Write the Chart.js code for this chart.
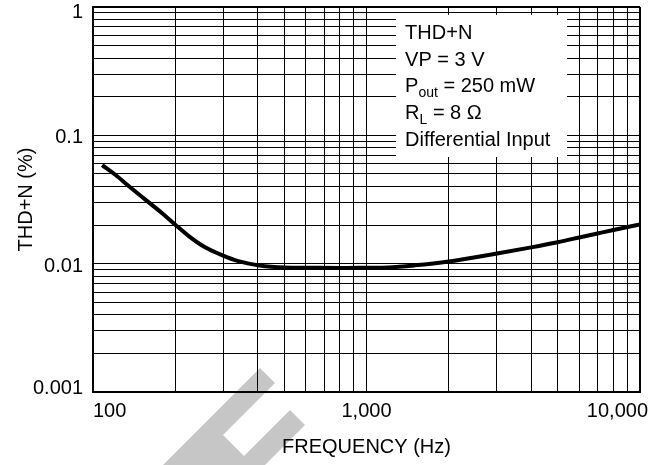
<!DOCTYPE html>
<html>
<head>
<meta charset="utf-8">
<script src="https://cdn.jsdelivr.net/npm/chart.js@4"></script>
<style>
  html, body { margin: 0; padding: 0; background: #fff; }
  canvas { display: block; }
</style>
</head>
<body>
<canvas id="thdChart" width="664" height="465"></canvas>
<script>
// THD+N vs frequency
const freqHz = [108, 121, 135, 155, 179, 199, 224, 257, 296, 340, 406, 504, 600, 800, 1000, 1200, 1500, 2000, 3000, 4000, 5000, 6000, 7000, 8000, 10000];
const thdPct = [0.0587, 0.0491, 0.0403, 0.0317, 0.0247, 0.0203, 0.0164, 0.0134, 0.01165, 0.01046, 0.00968, 0.00934, 0.0093, 0.00925, 0.0093, 0.00935, 0.0097, 0.0104, 0.0120, 0.0134, 0.0147, 0.0160, 0.0172, 0.0183, 0.0202];

const xTickValues = [100, 1000, 10000];
const xTickLabels = ['100', '1,000', '10,000'];
const yTickValues = [0.001, 0.01, 0.1, 1];
const yTickLabels = ['0.001', '0.01', '0.1', '1'];

// conditions box text; second item of a segment pair marks a subscript
const noteLines = [
    [['THD+N']],
    [['VP = 3 V']],
    [['P'], ['out', true], [' = 250 mW']],
    [['R'], ['L', true], [' = 8 \u03A9']],
    [['Differential Input']]
];

const FONT = '"Liberation Sans", Arial, Helvetica, sans-serif';
Chart.defaults.font.family = FONT;
Chart.defaults.font.size = 20;
Chart.defaults.color = '#000';

// 1..9 x each decade, for the log grid
function logGrid(decades) {
    const out = [];
    for (let i = 0; i < decades.length - 1; i++) {
        for (let k = 1; k < 10; k++) out.push(decades[i] * k);
    }
    out.push(decades[decades.length - 1]);
    return out;
}

// grey watermark stamp behind the grid
const watermarkPlugin = {
    id: 'watermark',
    beforeDraw(chart) {
        const ctx = chart.ctx;
        const pts = [[260, 368], [275, 383], [223, 435], [244, 456], [290, 410], [305, 425], [265, 465], [163, 465]];
        ctx.save();
        ctx.fillStyle = '#fff';
        ctx.fillRect(0, 0, chart.width, chart.height);
        ctx.fillStyle = '#c6c6c6';
        ctx.beginPath();
        pts.forEach((p, i) => i ? ctx.lineTo(p[0], p[1]) : ctx.moveTo(p[0], p[1]));
        ctx.closePath();
        ctx.fill();
        ctx.restore();
    }
};

// tick labels: end labels pulled inside like the original artwork
const tickLabelPlugin = {
    id: 'tickLabels',
    afterDraw(chart) {
        const { ctx, chartArea: a, scales: { x, y } } = chart;
        ctx.save();
        ctx.font = '20px ' + FONT;
        ctx.fillStyle = '#000';
        ctx.textBaseline = 'alphabetic';
        xTickValues.forEach((v, i) => {
            let px = x.getPixelForValue(v);
            if (i === 0) ctx.textAlign = 'left';
            else if (i === xTickValues.length - 1) { ctx.textAlign = 'right'; px += 8; }
            else ctx.textAlign = 'center';
            ctx.fillText(xTickLabels[i], px, a.bottom + 24.5);
        });
        ctx.textAlign = 'right';
        yTickValues.forEach((v, i) => {
            const py = Math.min(a.bottom + 1.6, Math.max(a.top + 11, y.getPixelForValue(v) + 8));
            ctx.fillText(yTickLabels[i], a.left - 10, py);
        });
        ctx.restore();
    }
};

// white box with test conditions, placed in data units
const notePlugin = {
    id: 'notes',
    beforeDatasetsDraw(chart) {
        const { ctx, scales: { x, y } } = chart;
        const left = x.getPixelForValue(1283);
        const right = x.getPixelForValue(5410);
        const top = y.getPixelForValue(0.87);
        const bottom = y.getPixelForValue(0.0678);
        ctx.save();
        ctx.fillStyle = '#fff';
        ctx.fillRect(left, top, right - left, bottom - top);
        ctx.fillStyle = '#000';
        ctx.textBaseline = 'alphabetic';
        ctx.textAlign = 'left';
        noteLines.forEach((segs, i) => {
            let cx = left + 9;
            const base = top + 24.5 + i * 26.6;
            segs.forEach(([t, sub]) => {
                ctx.font = (sub ? '14px ' : '20px ') + FONT;
                ctx.fillText(t, cx, base + (sub ? 5 : 0));
                cx += ctx.measureText(t).width;
            });
        });
        ctx.restore();
    }
};

new Chart(document.getElementById('thdChart'), {
    type: 'line',
    data: {
        datasets: [{
            data: freqHz.map((f, i) => ({ x: f, y: thdPct[i] })),
            borderColor: '#000',
            borderWidth: 4,
            pointRadius: 0,
            cubicInterpolationMode: 'monotone',
            fill: false
        }]
    },
    options: {
        responsive: false,
        animation: false,
        devicePixelRatio: 1,
        layout: { padding: { top: 7, right: 24, left: 0, bottom: 0 } },
        plugins: {
            legend: { display: false },
            tooltip: { enabled: false }
        },
        scales: {
            x: {
                type: 'logarithmic',
                min: 100,
                max: 10000,
                afterBuildTicks: s => { s.ticks = logGrid(xTickValues).map(v => ({ value: v })); },
                afterFit: s => { s.height = 73; s.paddingLeft = 0; s.paddingRight = 0; },
                grid: {
                    color: '#000',
                    lineWidth: c => (c.tick && c.tick.value === 10000 ? 2 : 1),
                    drawTicks: false
                },
                border: { display: true, color: '#000', width: 2 },
                ticks: { display: false },
                title: {
                    display: true,
                    text: 'FREQUENCY (Hz)',
                    padding: { top: 0, bottom: 6 }
                }
            },
            y: {
                type: 'logarithmic',
                min: 0.001,
                max: 1,
                afterBuildTicks: s => { s.ticks = logGrid(yTickValues).map(v => ({ value: v })); },
                afterFit: s => { s.width = 93; s.paddingTop = 0; s.paddingBottom = 0; },
                grid: {
                    color: '#000',
                    lineWidth: c => (c.tick && c.tick.value === 1 ? 2 : 1),
                    drawTicks: false
                },
                border: { display: true, color: '#000', width: 2 },
                ticks: { display: false },
                title: {
                    display: true,
                    text: 'THD+N (%)',
                    padding: { top: 14, bottom: 0 }
                }
            }
        }
    },
    plugins: [watermarkPlugin, notePlugin, tickLabelPlugin]
});
</script>
</body>
</html>
